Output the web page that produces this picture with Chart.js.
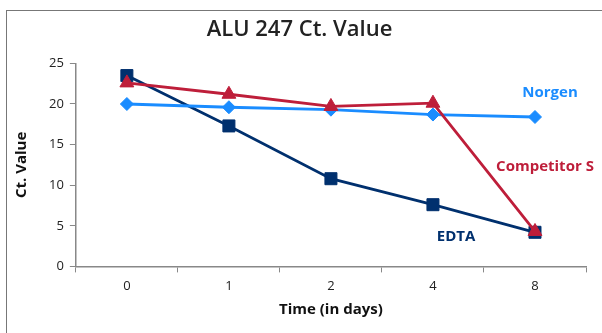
<!DOCTYPE html>
<html>
<head>
<meta charset="utf-8">
<script src="https://cdn.jsdelivr.net/npm/chart.js@4/dist/chart.umd.min.js"></script>
<style>
    html, body { margin: 0; padding: 0; background: #fff; overflow: hidden; }
    #frame {
        position: absolute; left: 6px; top: 10px; width: 700px; height: 400px;
        border-left: 1px solid #777; border-top: 1px solid #777;
    }
    #wrap { position: absolute; left: 0; top: 0; width: 602px; height: 333px; }
</style>
</head>
<body>
<div id="frame"></div>
<div id="wrap"><canvas id="ctChart"></canvas></div>
<script>
const days = ['0', '1', '2', '4', '8'];
const norgen = [20.0, 19.6, 19.3, 18.7, 18.4];
const competitorS = [22.6, 21.2, 19.7, 20.1, 4.3];
const edta = [23.5, 17.3, 10.8, 7.6, 4.2];
const yTicks = [0, 5, 10, 15, 20, 25];

const FONT = "'Open Sans', 'DejaVu Sans', sans-serif";
const colors = {
    norgen: '#1a8cff',
    competitor: '#be1e3a',
    edta: '#00306e'
};

// labels drawn next to the lines, like the original
const seriesLabels = {
    id: 'seriesLabels',
    afterDatasetsDraw(chart) {
        const ctx = chart.ctx;
        const area = chart.chartArea;
        ctx.save();
        ctx.font = 'bold 15px ' + FONT;
        ctx.textAlign = 'center';
        ctx.textBaseline = 'middle';
        ctx.fillStyle = colors.norgen;
        ctx.fillText('Norgen', area.right - 36, area.top + 29);
        ctx.fillStyle = colors.competitor;
        ctx.fillText('Competitor S', area.right - 41, area.top + 103);
        ctx.fillStyle = colors.edta;
        ctx.fillText('EDTA', area.right - 130, area.top + 173);
        ctx.restore();
    }
};

function makeSet(label, data, color, style, radius, order) {
    return {
        label: label,
        data: data,
        borderColor: color,
        backgroundColor: color,
        borderWidth: 2.8,
        pointStyle: style,
        pointRadius: radius,
        pointHoverRadius: radius,
        pointBorderWidth: 1,
        tension: 0,
        order: order
    };
}

new Chart(document.getElementById('ctChart'), {
    type: 'line',
    data: {
        labels: days,
        datasets: [
            makeSet('EDTA', edta, colors.edta, 'rect', 8.5, 3),
            makeSet('Norgen', norgen, colors.norgen, 'rectRot', 6.5, 2),
            makeSet('Competitor S', competitorS, colors.competitor, 'triangle', 8, 1)
        ]
    },
    options: {
        responsive: true,
        maintainAspectRatio: false,
        animation: false,
        layout: { padding: { left: 13, right: 16, top: 0, bottom: 14 } },
        plugins: {
            legend: { display: false },
            tooltip: { enabled: false },
            title: {
                display: true,
                text: 'ALU 247 Ct. Value',
                color: '#222',
                font: { family: FONT, size: 22, weight: '600' },
                padding: { top: 17, bottom: 20 }
            }
        },
        scales: {
            x: {
                type: 'category',
                offset: true,
                grid: { drawOnChartArea: false, drawTicks: true, tickLength: 6, offset: true, color: '#888' },
                border: { color: '#888', width: 1.5 },
                ticks: { color: '#222', font: { family: FONT, size: 13 }, padding: 6 },
                title: {
                    display: true,
                    text: 'Time (in days)',
                    color: '#111',
                    font: { family: FONT, size: 15, weight: 'bold' },
                    padding: { top: 1, bottom: 0 }
                }
            },
            y: {
                min: 0,
                max: 25,
                afterBuildTicks(scale) {
                    scale.ticks = yTicks.map(v => ({ value: v }));
                },
                grid: { drawOnChartArea: false, drawTicks: true, tickLength: 6, color: '#888' },
                border: { color: '#888', width: 1.5 },
                ticks: { color: '#222', font: { family: FONT, size: 13 }, padding: 6 },
                title: {
                    display: true,
                    text: 'Ct. Value',
                    color: '#111',
                    font: { family: FONT, size: 15, weight: 'bold' },
                    padding: { top: 0, bottom: 12 }
                }
            }
        }
    },
    plugins: [seriesLabels]
});
</script>
</body>
</html>
